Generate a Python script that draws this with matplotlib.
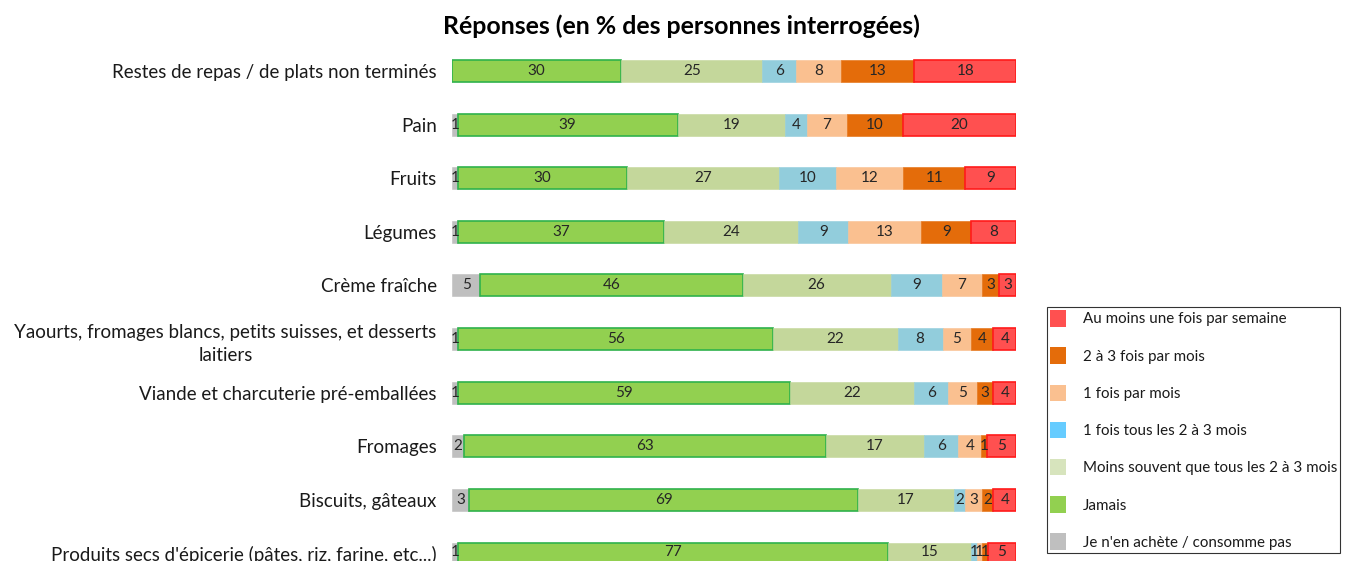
import matplotlib
matplotlib.use("Agg")
import matplotlib.pyplot as plt
import numpy as np
from matplotlib.patches import Patch

plt.rcParams["font.family"] = ["Lato", "DejaVu Sans"]

CATEGORIES = [
    "Restes de repas / de plats non terminés",
    "Pain",
    "Fruits",
    "Légumes",
    "Crème fraîche",
    "Yaourts, fromages blancs, petits suisses, et desserts\nlaitiers",
    "Viande et charcuterie pré-emballées",
    "Fromages",
    "Biscuits, gâteaux",
    "Produits secs d'épicerie (pâtes, riz, farine, etc...)",
]

SERIES = [
    "Je n'en achète / consomme pas",
    "Jamais",
    "Moins souvent que tous les 2 à 3 mois",
    "1 fois tous les 2 à 3 mois",
    "1 fois par mois",
    "2 à 3 fois par mois",
    "Au moins une fois par semaine",
]

NE_CONSOMME_PAS = [0, 1, 1, 1, 5, 1, 1, 2, 3, 1]
JAMAIS = [30, 39, 30, 37, 46, 56, 59, 63, 69, 77]
MOINS_SOUVENT = [25, 19, 27, 24, 26, 22, 22, 17, 17, 15]
TOUS_2_3_MOIS = [6, 4, 10, 9, 9, 8, 6, 6, 2, 1]
UNE_FOIS_MOIS = [8, 7, 12, 13, 7, 5, 5, 4, 3, 1]
DEUX_TROIS_MOIS = [13, 10, 11, 9, 3, 4, 3, 1, 2, 1]
SEMAINE = [18, 20, 9, 8, 3, 4, 4, 5, 4, 5]

BAR_COLORS = ["#bfbfbf", "#92d050", "#c4d79b", "#92cddc", "#fac090", "#e46c0a", "#ff5050"]
EDGE_COLORS = ["#bfbfbf", "#2fb24c", "#c4d79b", "#92cddc", "#fac090", "#e46c0a", "#ff1a1a"]
LEGEND_COLORS = ["#bfbfbf", "#92d050", "#d7e4bd", "#66ccff", "#fac090", "#e46c0a", "#ff5050"]


def main() -> None:
    values = np.array([NE_CONSOMME_PAS, JAMAIS, MOINS_SOUVENT, TOUS_2_3_MOIS,
                       UNE_FOIS_MOIS, DEUX_TROIS_MOIS, SEMAINE], dtype=float)
    totals = values.sum(axis=0)
    shares = values / totals * 100.0

    fig = plt.figure(figsize=(13.46, 5.61), dpi=100)
    ax = fig.add_axes([452 / 1346, 0.0, (1016 - 452) / 1346, 516.8 / 561])
    y = np.arange(len(CATEGORIES))
    left = np.zeros(len(CATEGORIES))
    for i, name in enumerate(SERIES):
        lw = 1.2 if i in (1, 6) else 0.4
        bars = ax.barh(y, shares[i], left=left, height=0.41, color=BAR_COLORS[i],
                       edgecolor=EDGE_COLORS[i], linewidth=lw, label=name)
        labels = [f"{int(v)}" if v > 0 else "" for v in values[i]]
        ax.bar_label(bars, labels=labels, label_type="center", fontsize=11, color="#262626")
        left += shares[i]

    ax.set_xlim(0, 100)
    ax.set_ylim(9.14, -0.5)
    ax.set_yticks(y)
    ax.set_yticklabels(CATEGORIES, fontsize=13.5, color="#1a1a1a",
                       multialignment="center", linespacing=1.45)
    ax.tick_params(axis="y", length=0, pad=11)
    ax.set_xticks([])
    for spine in ax.spines.values():
        spine.set_visible(False)

    fig.text(681 / 1346, 1 - 26 / 561, "Réponses (en % des personnes interrogées)",
             ha="center", va="center", fontsize=17.9, fontweight="bold", color="#000000")

    handles = [Patch(facecolor=LEGEND_COLORS[i], edgecolor="none", label=SERIES[i])
               for i in range(len(SERIES) - 1, -1, -1)]
    leg = fig.legend(handles=handles, loc="upper left",
                     bbox_to_anchor=(1047 / 1346, 1 - 307 / 561), frameon=True,
                     fontsize=10.9, handlelength=1.05, handleheight=1.3, handletextpad=1.1,
                     labelspacing=1.37, borderpad=0.2, borderaxespad=0.0, fancybox=False)
    leg.get_frame().set_edgecolor("#000000")
    leg.get_frame().set_linewidth(0.8)
    for text in leg.get_texts():
        text.set_color("#1a1a1a")

    fig.savefig("out.png", dpi=100)


if __name__ == "__main__":
    main()
